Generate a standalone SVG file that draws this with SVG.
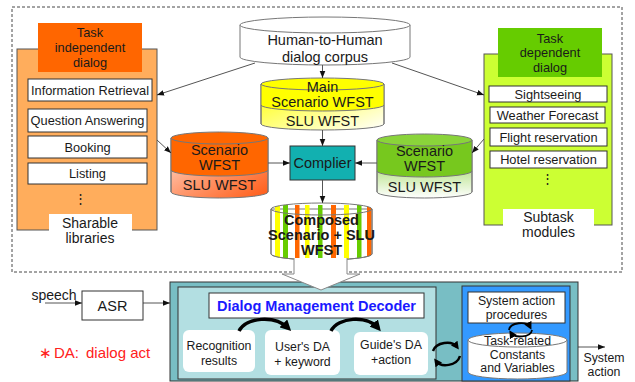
<svg xmlns="http://www.w3.org/2000/svg" width="635" height="382" viewBox="0 0 635 382">
<defs>
<style>
text{font-family:"Liberation Sans",Arial,sans-serif;fill:#1a1a1a;text-anchor:middle}
.t13{font-size:12.8px}
.t12{font-size:12.3px}
.t14{font-size:14px}
.t15{font-size:14.5px}
.b{font-weight:bold}
.box{fill:#fff;stroke:#333;stroke-width:1}
.cyl{stroke:#777;stroke-width:1}
.conn{fill:none;stroke:#555;stroke-width:1}
.curve{fill:none;stroke:#000;stroke-width:3.5}
</style>
<marker id="ah" viewBox="0 0 10 10" refX="10" refY="5" markerWidth="7" markerHeight="7" markerUnits="userSpaceOnUse" orient="auto"><path d="M0,1 L10,5 L0,9 z" fill="#111"/></marker>
<marker id="bh" viewBox="0 0 10 10" refX="6" refY="5" markerWidth="11" markerHeight="11" markerUnits="userSpaceOnUse" orient="auto"><path d="M0,0 L10,5 L0,10 z" fill="#000"/></marker>
<marker id="ch" viewBox="0 0 10 10" refX="6" refY="5" markerWidth="8" markerHeight="8" markerUnits="userSpaceOnUse" orient="auto"><path d="M0,0 L10,5 L0,10 z" fill="#000"/></marker>
<linearGradient id="gy" x1="0" y1="0" x2="1" y2="1"><stop offset="0" stop-color="#ffff00"/><stop offset="1" stop-color="#ffffff"/></linearGradient>
<linearGradient id="go" x1="0" y1="0" x2="1" y2="1"><stop offset="0" stop-color="#ffe6dc"/><stop offset="0.5" stop-color="#ff9a70"/><stop offset="1" stop-color="#ff5a14"/></linearGradient>
<linearGradient id="gg" x1="0" y1="0" x2="0" y2="1"><stop offset="0" stop-color="#77c81e"/><stop offset="1" stop-color="#ffffff"/></linearGradient>
<clipPath id="cc"><path d="M271,209 L271,254 A50.5,6 0 0 0 372,254 L372,209 A50.5,6 0 0 0 271,209 Z"/></clipPath>
</defs>
<rect width="635" height="382" fill="#fff"/>

<rect x="12" y="7" width="610" height="265" fill="none" stroke="#333" stroke-width="0.9" stroke-dasharray="3,2"/>

<g id="task-independent">
<rect x="17" y="49" width="140" height="181" fill="#ffad5c" stroke="#555"/>
<rect x="38" y="23" width="104" height="49" fill="#ff6600"/>
<text class="t13" x="90" y="37">Task</text>
<text class="t13" x="90" y="52">independent</text>
<text class="t13" x="90" y="67">dialog</text>
<rect class="box" x="28" y="79" width="124" height="22"/>
<text class="t13" x="90" y="95">Information Retrieval</text>
<rect class="box" x="28" y="109" width="119" height="23"/>
<text class="t13" x="87.5" y="125">Question Answering</text>
<rect class="box" x="28" y="136" width="119" height="22"/>
<text class="t13" x="87.5" y="152">Booking</text>
<rect class="box" x="28" y="163" width="119" height="21"/>
<text class="t13" x="87.5" y="178">Listing</text>
<text class="t13" x="80" y="203">⋮</text>
<rect x="49" y="214" width="83" height="17" fill="#fff"/>
<text class="t14" x="90" y="228">Sharable</text>
<text class="t14" x="90" y="243">libraries</text>
</g>

<g id="task-dependent">
<rect x="484" y="54" width="128" height="171" fill="#ccff33" stroke="#555"/>
<rect x="498" y="28" width="104" height="49" fill="#66cc00"/>
<text class="t13" x="550" y="43">Task</text>
<text class="t13" x="550" y="57">dependent</text>
<text class="t13" x="550" y="72">dialog</text>
<rect class="box" x="489" y="86" width="118" height="16"/>
<text class="t13" x="548" y="99">Sightseeing</text>
<rect class="box" x="490" y="107" width="115" height="16"/>
<text class="t13" x="547.5" y="120">Weather Forecast</text>
<rect class="box" x="490" y="128" width="117" height="18"/>
<text class="t13" x="548.5" y="142">Flight reservation</text>
<rect class="box" x="490" y="151" width="117" height="17"/>
<text class="t13" x="548.5" y="164">Hotel reservation</text>
<text class="t13" x="547" y="183">⋮</text>
<rect x="503" y="209" width="91" height="17" fill="#fff"/>
<text class="t14" x="548.5" y="222">Subtask</text>
<text class="t14" x="548.5" y="237">modules</text>
</g>

<g id="corpus">
<path class="cyl" fill="#fff" d="M240,25 L240,57 A85,8 0 0 0 410,57 L410,25 Z"/>
<ellipse class="cyl" fill="#fff" cx="325" cy="25" rx="85" ry="8"/>
<text class="t15" x="325" y="45">Human-to-Human</text>
<text class="t15" x="325" y="62">dialog corpus</text>
</g>

<g id="main-scenario">
<path class="cyl" fill="url(#gy)" d="M261,84 L261,124 A61.5,6 0 0 0 384,124 L384,84 Z"/>
<path fill="#ffff00" d="M261,84 L261,105 A61.5,6 0 0 0 384,105 L384,84 Z"/>
<path class="cyl" fill="none" d="M261,105 A61.5,6 0 0 0 384,105"/>
<path class="cyl" fill="none" d="M261,84 L261,124 M384,84 L384,124"/>
<ellipse class="cyl" fill="#ffff00" cx="322.5" cy="84" rx="61.5" ry="6"/>
<text class="t15" x="322.5" y="92">Main</text>
<text class="t15" x="322.5" y="107">Scenario WFST</text>
<text class="t15" x="322.5" y="126">SLU WFST</text>
</g>

<g id="scenario-orange">
<path class="cyl" fill="url(#go)" d="M171,138 L171,192 A48.5,6 0 0 0 268,192 L268,138 Z"/>
<path fill="#ff6600" d="M171,138 L171,170 A48.5,6 0 0 0 268,170 L268,138 Z"/>
<path class="cyl" fill="none" d="M171,170 A48.5,6 0 0 0 268,170"/>
<path class="cyl" fill="none" d="M171,138 L171,192 M268,138 L268,192"/>
<ellipse class="cyl" fill="#ff6600" cx="219.5" cy="138" rx="48.5" ry="6"/>
<text class="t15" x="219.5" y="155">Scenario</text>
<text class="t15" x="219.5" y="170">WFST</text>
<text class="t15" x="219.5" y="190">SLU WFST</text>
</g>

<g id="scenario-green">
<path class="cyl" fill="url(#gg)" d="M377,140 L377,192 A47.5,6 0 0 0 472,192 L472,140 Z"/>
<path fill="#77c81e" d="M377,140 L377,171 A47.5,6 0 0 0 472,171 L472,140 Z"/>
<path class="cyl" fill="none" d="M377,171 A47.5,6 0 0 0 472,171"/>
<path class="cyl" fill="none" d="M377,140 L377,192 M472,140 L472,192"/>
<ellipse class="cyl" fill="#8ad43a" cx="424.5" cy="140" rx="47.5" ry="6"/>
<text class="t15" x="424.5" y="156">Scenario</text>
<text class="t15" x="424.5" y="171">WFST</text>
<text class="t15" x="424.5" y="192">SLU WFST</text>
</g>

<g id="complier">
<rect x="290" y="146" width="65" height="34" fill="#12b0b0" stroke="#333"/>
<text class="t15" x="322.5" y="168">Complier</text>
</g>

<g id="composed">
<path class="cyl" fill="#fff" d="M271,209 L271,254 A50.5,6 0 0 0 372,254 L372,209 Z"/>
<g clip-path="url(#cc)">
<rect x="275" y="205" width="5" height="55" fill="#ffff00"/>
<rect x="283" y="205" width="5" height="55" fill="#66cc00"/>
<rect x="295" y="205" width="4.5" height="55" fill="#ff6600"/>
<rect x="305" y="205" width="4.5" height="55" fill="#ffff00"/>
<rect x="318" y="205" width="4.5" height="55" fill="#66cc00"/>
<rect x="331" y="205" width="5" height="55" fill="#ff6600"/>
<rect x="344" y="205" width="5" height="55" fill="#ffff00"/>
<rect x="357" y="205" width="4.5" height="55" fill="#66cc00"/>
<rect x="367" y="205" width="4.5" height="55" fill="#ff6600"/>
</g>
<path class="cyl" fill="none" d="M271,209 L271,254 A50.5,6 0 0 0 372,254 L372,209"/>
<ellipse class="cyl" fill="none" cx="321.5" cy="209" rx="50.5" ry="6"/>
<text class="t15 b" x="321.5" y="225">Composed</text>
<text class="t15 b" x="321.5" y="240">Scenario + SLU</text>
<text class="t15 b" x="321.5" y="255">WFST</text>
</g>

<g id="connectors">
<line class="conn" x1="255" y1="63" x2="157" y2="95" marker-end="url(#ah)"/>
<line class="conn" x1="392" y1="63" x2="484" y2="95" marker-end="url(#ah)"/>
<line class="conn" x1="322.5" y1="65" x2="322.5" y2="78" marker-end="url(#ah)"/>
<line class="conn" x1="322.5" y1="130" x2="322.5" y2="146" marker-end="url(#ah)"/>
<line class="conn" x1="322.5" y1="180" x2="322.5" y2="203" marker-end="url(#ah)"/>
<line class="conn" x1="157" y1="140" x2="171" y2="153" marker-end="url(#ah)"/>
<line class="conn" x1="484" y1="139" x2="472" y2="153" marker-end="url(#ah)"/>
<line class="conn" x1="268" y1="163" x2="290" y2="163" marker-end="url(#ah)"/>
<line class="conn" x1="377" y1="163" x2="355" y2="163" marker-end="url(#ah)"/>
<line class="conn" x1="45" y1="303" x2="82" y2="303" marker-end="url(#ah)"/>
<line class="conn" x1="143" y1="303" x2="170" y2="303" marker-end="url(#ah)"/>
<line class="conn" x1="578" y1="347" x2="605" y2="347" marker-end="url(#ah)"/>
</g>

<text class="t14" x="54" y="300">speech</text>

<g id="asr">
<rect class="box" x="82" y="291" width="61" height="29"/>
<text class="t15" x="112.5" y="311">ASR</text>
</g>

<g id="legend">
<text x="45" y="358" style="font-size:15px;fill:#ff2020">∗</text>
<text x="54" y="358" style="font-size:15px;fill:#ff2020;text-anchor:start">DA:</text>
<text x="86" y="358" style="font-size:15px;fill:#ff2020;text-anchor:start">dialog act</text>
</g>

<g id="dm-system">
<rect x="170" y="282" width="408" height="99" fill="#78bec4" stroke="#333"/>
</g>

<g id="dm-decoder">
<rect x="178" y="287" width="258" height="92" fill="#b3dfe2" stroke="#333"/>
<rect class="box" x="209" y="293" width="215" height="25"/>
<text class="t15 b" x="316.5" y="311" style="fill:#1a1aff">Dialog Management Decoder</text>
</g>

<g id="recognition">
<rect x="183" y="330" width="72" height="42" rx="6" fill="#fff"/>
<text class="t12" x="219" y="350">Recognition</text>
<text class="t12" x="219" y="365">results</text>
</g>
<g id="users-da">
<rect x="265" y="330" width="75" height="45" rx="6" fill="#fff"/>
<text class="t12" x="302.5" y="351">User's DA</text>
<text class="t12" x="302.5" y="366">+ keyword</text>
</g>
<g id="guides-da">
<rect x="354" y="332" width="74" height="43" rx="6" fill="#fff"/>
<text class="t12" x="391" y="349">Guide's DA</text>
<text class="t12" x="391" y="364">+action</text>
</g>

<g id="system-action-block">
<rect x="462" y="286" width="108" height="95" fill="#3399ff" stroke="#333"/>
<rect class="box" x="468" y="292" width="97" height="31"/>
<text class="t12" x="516.5" y="305">System action</text>
<text class="t12" x="516.5" y="319">procedures</text>
</g>

<g id="task-related">
<path class="cyl" fill="#fff" stroke="#555" d="M468,340 L468,372 A49.5,7 0 0 0 567,372 L567,340 Z"/>
<ellipse class="cyl" fill="#fff" stroke="#555" cx="517.5" cy="340" rx="49.5" ry="7"/>
<text class="t12" x="517.5" y="345">Task-related</text>
<text class="t12" x="517.5" y="358.5">Constants</text>
<text class="t12" x="517.5" y="372">and Variables</text>
</g>

<text class="t12" x="604" y="362">System</text>
<text class="t12" x="604" y="376">action</text>

<g id="curved-arrows">
<path class="curve" d="M239,331 C246,317 275,315 288,328" marker-end="url(#bh)"/>
<path class="curve" d="M331,331 C338,317 367,315 378,328" marker-end="url(#bh)"/>
<path fill="none" stroke="#000" stroke-width="2.5" d="M433,351 C436,342 452,340 457,347" marker-end="url(#ch)"/>
<path fill="none" stroke="#000" stroke-width="2.5" d="M460,356 C457,366 441,368 436,361" marker-end="url(#ch)"/>
<path fill="none" stroke="#000" stroke-width="1.8" d="M509,330 C510,322 527,321 530,327" marker-end="url(#ch)"/>
<path fill="none" stroke="#000" stroke-width="1.8" d="M532,330 C531,338 514,338 511,333" marker-end="url(#ch)"/>
</g>

<g id="big-arrow">
<path d="M294,258 L294,274 L282,274 L321,290 L360,274 L347,274 L347,258" fill="#fff" stroke="#888" stroke-width="1"/>
</g>
</svg>
